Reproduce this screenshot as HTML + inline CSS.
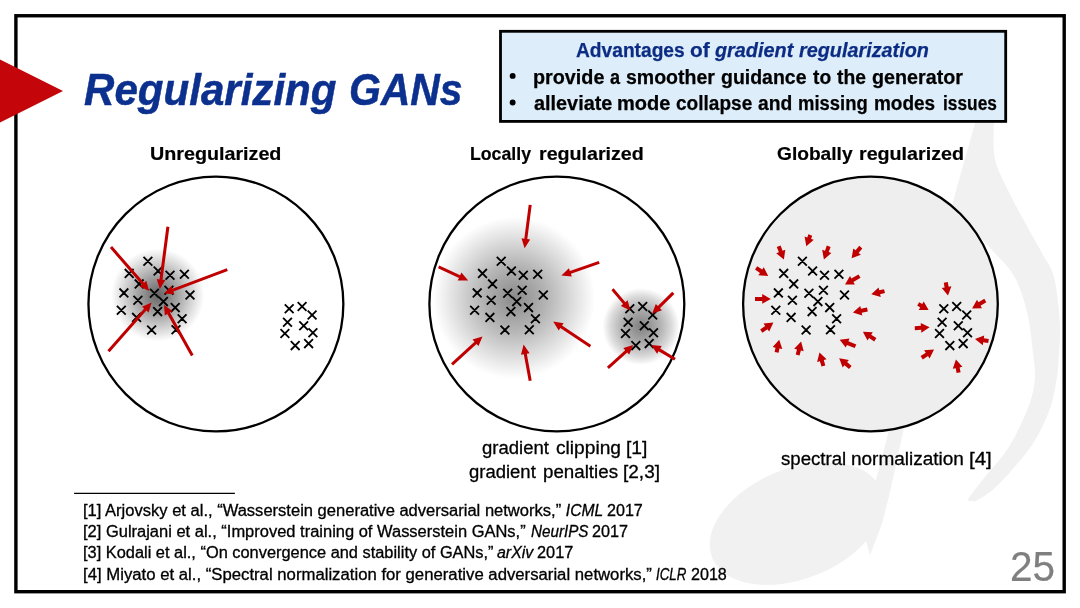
<!DOCTYPE html>
<html><head><meta charset="utf-8"><title>Regularizing GANs</title>
<style>
html,body{margin:0;padding:0;background:#fff;}
body{width:1080px;height:608px;position:relative;overflow:hidden;font-family:"Liberation Sans", sans-serif;will-change:transform;}
.t{position:absolute;white-space:nowrap;transform-origin:0 50%;font-family:"Liberation Sans", sans-serif;}
</style></head><body>
<svg id="dg" width="1080" height="608" viewBox="0 0 1080 608" style="position:absolute;left:0;top:0">
<defs><radialGradient id="g1"><stop offset="0" stop-color="#646464"/><stop offset="0.26" stop-color="#8a8a8a"/><stop offset="0.54" stop-color="#b6b6b6"/><stop offset="0.8" stop-color="#e0e0e0"/><stop offset="1" stop-color="#ffffff"/></radialGradient><radialGradient id="g2"><stop offset="0" stop-color="#8a8a8a"/><stop offset="0.4" stop-color="#b4b4b4"/><stop offset="0.7" stop-color="#dadada"/><stop offset="0.9" stop-color="#f3f3f3"/><stop offset="1" stop-color="#ffffff"/></radialGradient><radialGradient id="g3"><stop offset="0" stop-color="#808080"/><stop offset="0.5" stop-color="#b2b2b2"/><stop offset="0.8" stop-color="#dcdcdc"/><stop offset="1" stop-color="#ffffff"/></radialGradient></defs>
<g><path d="M981.6 100.0L975.3 122.3L955.7 191.8L933.0 286.6L888.7 431.6L874.2 486.8L860.0 520.0L870.0 555.0L882.0 523.7L890.0 492.0L903.2 431.6L948.0 286.6L971.5 191.8L993.8 122.3L1000.1 100.0Z" fill="#f1f1f1"/><path d="M993.8 100.0C993.8 103.7 993.6 112.4 993.8 122.3C994.0 132.2 992.5 147.8 995.0 159.3C997.5 170.8 1003.1 179.9 1008.6 191.4C1014.1 202.9 1022.5 217.8 1028.3 228.4C1034.0 239.0 1038.8 246.7 1043.1 255.0C1047.4 263.3 1051.4 266.5 1054.2 278.0C1057.0 289.5 1059.2 310.2 1059.9 324.0C1060.6 337.8 1059.1 351.7 1058.5 361.0C1057.9 370.3 1058.0 371.9 1056.5 380.0C1055.0 388.1 1053.7 398.7 1049.6 409.6C1045.5 420.5 1040.2 432.9 1031.8 445.2C1023.4 457.5 1008.1 474.6 999.2 483.7C990.3 492.8 983.0 496.6 978.5 499.5C974.0 502.4 973.1 500.8 972.0 501.0L972.0 501.0C971.4 500.6 966.5 502.4 968.6 498.5C970.7 494.6 977.8 486.1 984.4 477.7C991.0 469.3 1000.9 459.5 1008.1 448.1C1015.3 436.8 1023.0 421.0 1027.4 409.6C1031.9 398.2 1034.0 390.1 1034.8 380.0C1035.6 369.9 1033.8 360.1 1032.5 348.7C1031.2 337.3 1030.1 323.8 1027.0 311.7C1023.9 299.6 1020.3 286.8 1014.0 276.0C1007.7 265.2 997.5 256.1 989.2 247.1C981.0 238.1 969.4 227.3 964.5 222.0C959.6 216.7 960.8 216.2 960.0 215.0L975 150Z" fill="#f1f1f1"/><ellipse cx="796.6" cy="523.6" rx="91" ry="55" transform="rotate(-22 796.6 523.6)" fill="#f1f1f1"/></g>
<rect x="15.9" y="15.75" width="1048.3" height="575.95" fill="none" stroke="#000" stroke-width="3.4"/>
<circle cx="215.9" cy="304.0" r="127.45" fill="#fff" stroke="#000" stroke-width="2.3"/>
<circle cx="556.85" cy="304.0" r="127.45" fill="#fff" stroke="#000" stroke-width="2.3"/>
<circle cx="870.45" cy="304.0" r="127.35" fill="#ededed" fill-opacity="0.95" stroke="#000" stroke-width="2.3"/>
<circle cx="157.8" cy="295.0" r="46.5" fill="url(#g1)"/>
<circle cx="514.2" cy="297.8" r="81" fill="url(#g2)"/>
<circle cx="641.0" cy="326.5" r="38.5" fill="url(#g3)"/>
<path d="M143.5 256.9L152.3 265.7M152.3 256.9L143.5 265.7M153.7 266.6L162.5 275.4M162.5 266.6L153.7 275.4M165.6 270.9L174.4 279.7M174.4 270.9L165.6 279.7M180.0 269.8L188.8 278.6M188.8 269.8L180.0 278.6M124.8 269.0L133.6 277.8M133.6 269.0L124.8 277.8M134.8 279.5L143.6 288.3M143.6 279.5L134.8 288.3M119.5 288.5L128.3 297.3M128.3 288.5L119.5 297.3M133.5 295.9L142.3 304.7M142.3 295.9L133.5 304.7M150.0 288.8L158.8 297.6M158.8 288.8L150.0 297.6M164.5 285.9L173.3 294.7M173.3 285.9L164.5 294.7M159.0 297.2L167.8 306.0M167.8 297.2L159.0 306.0M185.6 290.6L194.4 299.4M194.4 290.6L185.6 299.4M116.9 305.9L125.7 314.7M125.7 305.9L116.9 314.7M132.2 313.0L141.0 321.8M141.0 313.0L132.2 321.8M153.2 307.2L162.0 316.0M162.0 307.2L153.2 316.0M170.8 303.2L179.6 312.0M179.6 303.2L170.8 312.0M177.7 314.3L186.5 323.1M186.5 314.3L177.7 323.1M147.2 325.6L156.0 334.4M156.0 325.6L147.2 334.4M171.6 325.3L180.4 334.1M180.4 325.3L171.6 334.1" stroke="#000" stroke-width="1.85" fill="none" stroke-linecap="butt"/>
<path d="M284.8 304.4L293.6 313.2M293.6 304.4L284.8 313.2M297.7 302.1L306.5 310.9M306.5 302.1L297.7 310.9M307.7 310.6L316.5 319.4M316.5 310.6L307.7 319.4M283.1 317.9L291.9 326.7M291.9 317.9L283.1 326.7M299.3 321.4L308.1 330.2M308.1 321.4L299.3 330.2M308.5 328.3L317.3 337.1M317.3 328.3L308.5 337.1M280.5 329.1L289.3 337.9M289.3 329.1L280.5 337.9M290.8 341.2L299.6 350.0M299.6 341.2L290.8 350.0M304.2 339.2L313.0 348.0M313.0 339.2L304.2 348.0" stroke="#000" stroke-width="1.85" fill="none" stroke-linecap="butt"/>
<path d="M496.8 256.9L505.6 265.7M505.6 256.9L496.8 265.7M507.0 266.6L515.8 275.4M515.8 266.6L507.0 275.4M518.9 270.9L527.7 279.7M527.7 270.9L518.9 279.7M533.3 269.8L542.1 278.6M542.1 269.8L533.3 278.6M478.1 269.0L486.9 277.8M486.9 269.0L478.1 277.8M488.1 279.5L496.9 288.3M496.9 279.5L488.1 288.3M472.8 288.5L481.6 297.3M481.6 288.5L472.8 297.3M486.8 295.9L495.6 304.7M495.6 295.9L486.8 304.7M503.3 288.8L512.1 297.6M512.1 288.8L503.3 297.6M517.8 285.9L526.6 294.7M526.6 285.9L517.8 294.7M512.3 297.2L521.1 306.0M521.1 297.2L512.3 306.0M538.9 290.6L547.7 299.4M547.7 290.6L538.9 299.4M470.2 305.9L479.0 314.7M479.0 305.9L470.2 314.7M485.5 313.0L494.3 321.8M494.3 313.0L485.5 321.8M506.5 307.2L515.3 316.0M515.3 307.2L506.5 316.0M524.1 303.2L532.9 312.0M532.9 303.2L524.1 312.0M531.0 314.3L539.8 323.1M539.8 314.3L531.0 323.1M500.5 325.6L509.3 334.4M509.3 325.6L500.5 334.4M524.9 325.3L533.7 334.1M533.7 325.3L524.9 334.1" stroke="#000" stroke-width="1.85" fill="none" stroke-linecap="butt"/>
<path d="M625.4 304.4L634.2 313.2M634.2 304.4L625.4 313.2M638.3 302.1L647.1 310.9M647.1 302.1L638.3 310.9M648.3 310.6L657.1 319.4M657.1 310.6L648.3 319.4M623.7 317.9L632.5 326.7M632.5 317.9L623.7 326.7M639.9 321.4L648.7 330.2M648.7 321.4L639.9 330.2M649.1 328.3L657.9 337.1M657.9 328.3L649.1 337.1M621.1 329.1L629.9 337.9M629.9 329.1L621.1 337.9M631.4 341.2L640.2 350.0M640.2 341.2L631.4 350.0M644.8 339.2L653.6 348.0M653.6 339.2L644.8 348.0" stroke="#000" stroke-width="1.85" fill="none" stroke-linecap="butt"/>
<path d="M798.0 256.9L806.8 265.7M806.8 256.9L798.0 265.7M808.2 266.6L817.0 275.4M817.0 266.6L808.2 275.4M820.1 270.9L828.9 279.7M828.9 270.9L820.1 279.7M834.5 269.8L843.3 278.6M843.3 269.8L834.5 278.6M779.3 269.0L788.1 277.8M788.1 269.0L779.3 277.8M789.3 279.5L798.1 288.3M798.1 279.5L789.3 288.3M774.0 288.5L782.8 297.3M782.8 288.5L774.0 297.3M788.0 295.9L796.8 304.7M796.8 295.9L788.0 304.7M804.5 288.8L813.3 297.6M813.3 288.8L804.5 297.6M819.0 285.9L827.8 294.7M827.8 285.9L819.0 294.7M813.5 297.2L822.3 306.0M822.3 297.2L813.5 306.0M840.1 290.6L848.9 299.4M848.9 290.6L840.1 299.4M771.4 305.9L780.2 314.7M780.2 305.9L771.4 314.7M786.7 313.0L795.5 321.8M795.5 313.0L786.7 321.8M807.7 307.2L816.5 316.0M816.5 307.2L807.7 316.0M825.3 303.2L834.1 312.0M834.1 303.2L825.3 312.0M832.2 314.3L841.0 323.1M841.0 314.3L832.2 323.1M801.7 325.6L810.5 334.4M810.5 325.6L801.7 334.4M826.1 325.3L834.9 334.1M834.9 325.3L826.1 334.1" stroke="#000" stroke-width="1.85" fill="none" stroke-linecap="butt"/>
<path d="M939.4 304.4L948.2 313.2M948.2 304.4L939.4 313.2M952.3 302.1L961.1 310.9M961.1 302.1L952.3 310.9M962.3 310.6L971.1 319.4M971.1 310.6L962.3 319.4M937.7 317.9L946.5 326.7M946.5 317.9L937.7 326.7M953.9 321.4L962.7 330.2M962.7 321.4L953.9 330.2M963.1 328.3L971.9 337.1M971.9 328.3L963.1 337.1M935.1 329.1L943.9 337.9M943.9 329.1L935.1 337.9M945.4 341.2L954.2 350.0M954.2 341.2L945.4 350.0M958.8 339.2L967.6 348.0M967.6 339.2L958.8 348.0" stroke="#000" stroke-width="1.85" fill="none" stroke-linecap="butt"/>
<path d="M109.9 248.1L141.8 284.7L139.6 286.6L149.2 290.9L146.3 280.8L144.1 282.8L112.1 246.1ZM166.4 226.6L159.5 279.4L156.7 279.0L159.8 289.0L165.4 280.1L162.5 279.8L169.4 227.0ZM226.8 268.3L172.4 288.7L171.4 285.9L164.0 293.4L174.4 294.2L173.4 291.5L227.8 271.1ZM109.6 352.3L146.4 310.6L148.6 312.5L151.6 302.5L142.0 306.7L144.2 308.6L107.4 350.3ZM193.6 354.8L170.0 312.6L172.5 311.1L164.0 305.0L164.8 315.4L167.3 314.0L191.0 356.2Z" fill="#c00000"/>
<path d="M528.7 204.7L524.3 238.7L521.5 238.3L524.6 248.3L530.2 239.4L527.3 239.1L531.7 205.1ZM438.0 268.2L459.0 277.9L457.7 280.6L468.2 280.6L461.4 272.6L460.2 275.2L439.2 265.4ZM598.7 261.0L569.9 271.0L568.9 268.2L561.4 275.5L571.8 276.5L570.9 273.8L599.7 263.8ZM591.2 344.9L562.0 325.6L563.6 323.2L553.2 321.6L558.7 330.5L560.3 328.1L589.6 347.5ZM453.0 365.4L476.5 343.9L478.5 346.1L482.5 336.4L472.5 339.6L474.5 341.7L451.0 363.2ZM531.7 380.4L526.8 353.7L529.6 353.2L523.6 344.6L521.0 354.7L523.8 354.2L528.7 381.0Z" fill="#c00000"/>
<path d="M611.4 290.2L623.1 304.1L620.9 306.0L630.4 310.4L627.6 300.3L625.4 302.2L613.6 288.2ZM672.2 291.8L657.8 306.0L655.8 304.0L652.1 313.8L662.0 310.2L659.9 308.2L674.4 294.0ZM608.9 369.0L627.2 352.5L629.2 354.6L633.3 345.0L623.3 348.1L625.2 350.2L606.9 366.8ZM675.8 357.9L660.2 348.6L661.7 346.1L651.2 345.0L657.1 353.7L658.6 351.2L674.2 360.5Z" fill="#c00000"/>
<path d="M808.4 234.3L807.3 237.5L804.6 236.6L806.3 246.3L813.8 239.8L811.1 238.9L812.2 235.7ZM776.8 247.0L778.9 252.2L776.2 253.3L783.9 259.5L785.3 249.7L782.6 250.8L780.6 245.6ZM826.8 245.6L825.0 250.7L822.2 249.7L823.9 259.5L831.4 253.1L828.7 252.1L830.6 247.0ZM859.3 245.8L855.5 250.3L853.3 248.5L851.6 258.2L860.9 254.7L858.6 252.9L862.3 248.4ZM755.0 269.6L760.0 272.9L758.3 275.3L768.2 276.1L763.8 267.2L762.2 269.6L757.2 266.2ZM858.5 274.4L851.4 278.5L850.0 275.9L845.0 284.5L854.9 284.4L853.4 281.9L860.5 277.8ZM884.0 289.2L879.2 290.3L878.6 287.5L871.3 294.2L880.8 297.0L880.1 294.2L885.0 293.0ZM755.0 300.9L762.2 300.9L762.2 303.8L770.8 298.9L762.2 294.0L762.2 296.9L755.0 296.9ZM867.0 307.5L860.9 308.8L860.3 306.0L852.9 312.6L862.3 315.6L861.7 312.8L867.8 311.5ZM762.4 332.7L767.5 329.2L769.2 331.6L773.4 322.6L763.5 323.5L765.2 325.9L760.2 329.5ZM876.4 338.0L871.2 334.7L872.8 332.3L862.9 331.8L867.5 340.6L869.1 338.1L874.2 341.4ZM778.6 352.8L779.4 348.5L782.3 349.1L779.2 339.7L772.7 347.1L775.5 347.7L774.6 352.0ZM856.3 344.5L848.4 341.2L849.5 338.5L839.7 339.7L845.7 347.5L846.9 344.9L854.7 348.1ZM799.5 355.5L800.9 350.4L803.7 351.2L801.1 341.6L794.2 348.7L797.0 349.4L795.7 354.5ZM825.3 365.6L823.8 360.1L826.6 359.3L819.5 352.4L817.1 362.0L819.9 361.2L821.5 366.6ZM851.6 365.9L847.1 362.1L848.9 359.9L839.2 358.2L842.7 367.5L844.5 365.2L849.0 368.9Z" fill="#c00000"/>
<path d="M943.8 282.7L944.6 287.4L941.8 287.9L948.0 295.6L951.4 286.3L948.6 286.8L947.8 282.1ZM917.2 305.6L920.2 307.4L918.7 309.9L928.6 310.0L923.7 301.4L922.2 303.9L919.2 302.2ZM984.3 298.8L978.5 302.3L977.0 299.8L972.1 308.4L982.0 308.2L980.5 305.7L986.3 302.2ZM914.9 330.2L921.2 329.8L921.3 332.7L929.6 327.2L920.7 322.9L920.9 325.8L914.7 326.2ZM988.8 339.0L983.8 338.3L984.2 335.4L975.0 339.1L982.8 345.2L983.2 342.3L988.2 343.0ZM922.8 359.5L928.0 356.0L929.6 358.4L934.0 349.5L924.1 350.2L925.8 352.7L920.6 356.1ZM960.6 372.2L959.6 367.4L962.4 366.8L955.9 359.4L952.8 368.8L955.7 368.2L956.6 373.0Z" fill="#c00000"/>
<rect x="500.5" y="31.3" width="505.2" height="90.1" fill="#ddeefa" stroke="#000" stroke-width="2.8"/>
<circle cx="512.65" cy="75.9" r="2.95" fill="#000"/><circle cx="512.65" cy="102.55" r="2.95" fill="#000"/>
<path d="M74.1 493.3H234.9" stroke="#000" stroke-width="1.15" fill="none"/>
<path d="M0 59.5L63 91.05L0 122.5Z" fill="#c40509"/>
</svg>
<div class="t" id="ti0" style="left:84.30px;top:68.00px;font-size:44px;line-height:44px;transform:scaleX(0.9563);font-weight:bold;font-style:italic;color:#0c308e;-webkit-text-stroke:0.5px #0c308e;">Regularizing</div>
<div class="t" id="ti1" style="left:348.70px;top:68.00px;font-size:44px;line-height:44px;transform:scaleX(0.9294);font-weight:bold;font-style:italic;color:#0c308e;-webkit-text-stroke:0.5px #0c308e;">GANs</div>
<div class="t" id="bh0" style="left:576.20px;top:40.00px;font-size:20px;line-height:20px;transform:scaleX(0.9586);font-weight:bold;color:#0c2c84;-webkit-text-stroke:0.25px #0c2c84;">Advantages</div>
<div class="t" id="bh1" style="left:689.65px;top:40.00px;font-size:20px;line-height:20px;transform:scaleX(1.0432);font-weight:bold;color:#0c2c84;-webkit-text-stroke:0.25px #0c2c84;">of</div>
<div class="t" id="bh2" style="left:715.05px;top:40.00px;font-size:20px;line-height:20px;transform:scaleX(0.9918);font-weight:bold;color:#0c2c84;-webkit-text-stroke:0.25px #0c2c84;font-style:italic;">gradient</div>
<div class="t" id="bh3" style="left:799.00px;top:40.00px;font-size:20px;line-height:20px;transform:scaleX(0.9904);font-weight:bold;color:#0c2c84;-webkit-text-stroke:0.25px #0c2c84;font-style:italic;">regularization</div>
<div class="t" id="ba0" style="left:533.30px;top:67.00px;font-size:20px;line-height:20px;transform:scaleX(0.9887);font-weight:bold;color:#000;-webkit-text-stroke:0.25px #000;">provide</div>
<div class="t" id="ba1" style="left:609.90px;top:67.00px;font-size:20px;line-height:20px;transform:scaleX(0.9023);font-weight:bold;color:#000;-webkit-text-stroke:0.25px #000;">a</div>
<div class="t" id="ba2" style="left:625.50px;top:67.00px;font-size:20px;line-height:20px;transform:scaleX(0.9757);font-weight:bold;color:#000;-webkit-text-stroke:0.25px #000;">smoother</div>
<div class="t" id="ba3" style="left:721.40px;top:67.00px;font-size:20px;line-height:20px;transform:scaleX(0.9734);font-weight:bold;color:#000;-webkit-text-stroke:0.25px #000;">guidance</div>
<div class="t" id="ba4" style="left:812.60px;top:67.00px;font-size:20px;line-height:20px;transform:scaleX(0.9611);font-weight:bold;color:#000;-webkit-text-stroke:0.25px #000;">to</div>
<div class="t" id="ba5" style="left:837.40px;top:67.00px;font-size:20px;line-height:20px;transform:scaleX(0.9641);font-weight:bold;color:#000;-webkit-text-stroke:0.25px #000;">the</div>
<div class="t" id="ba6" style="left:871.80px;top:67.00px;font-size:20px;line-height:20px;transform:scaleX(0.9858);font-weight:bold;color:#000;-webkit-text-stroke:0.25px #000;">generator</div>
<div class="t" id="bb0" style="left:534.10px;top:93.00px;font-size:20px;line-height:20px;transform:scaleX(0.9923);font-weight:bold;color:#000;-webkit-text-stroke:0.25px #000;">alleviate</div>
<div class="t" id="bb1" style="left:616.95px;top:93.00px;font-size:20px;line-height:20px;transform:scaleX(1.0000);font-weight:bold;color:#000;-webkit-text-stroke:0.25px #000;">mode</div>
<div class="t" id="bb2" style="left:676.30px;top:93.00px;font-size:20px;line-height:20px;transform:scaleX(0.9524);font-weight:bold;color:#000;-webkit-text-stroke:0.25px #000;">collapse</div>
<div class="t" id="bb3" style="left:757.50px;top:93.00px;font-size:20px;line-height:20px;transform:scaleX(0.9630);font-weight:bold;color:#000;-webkit-text-stroke:0.25px #000;">and</div>
<div class="t" id="bb4" style="left:798.25px;top:93.00px;font-size:20px;line-height:20px;transform:scaleX(0.9219);font-weight:bold;color:#000;-webkit-text-stroke:0.25px #000;">missing</div>
<div class="t" id="bb5" style="left:874.45px;top:93.00px;font-size:20px;line-height:20px;transform:scaleX(0.9488);font-weight:bold;color:#000;-webkit-text-stroke:0.25px #000;">modes</div>
<div class="t" id="bb6" style="left:942.80px;top:93.00px;font-size:20px;line-height:20px;transform:scaleX(0.8664);font-weight:bold;color:#000;-webkit-text-stroke:0.25px #000;">issues</div>
<div class="t" id="ha0" style="left:149.95px;top:145.00px;font-size:18.5px;line-height:18.5px;transform:scaleX(1.0653);font-weight:bold;color:#000;-webkit-text-stroke:0.2px #000;">Unregularized</div>
<div class="t" id="hb0" style="left:470.25px;top:145.00px;font-size:18.5px;line-height:18.5px;transform:scaleX(0.9568);font-weight:bold;color:#000;-webkit-text-stroke:0.2px #000;">Locally</div>
<div class="t" id="hb1" style="left:539.00px;top:145.00px;font-size:18.5px;line-height:18.5px;transform:scaleX(1.0611);font-weight:bold;color:#000;-webkit-text-stroke:0.2px #000;">regularized</div>
<div class="t" id="hc0" style="left:777.30px;top:145.00px;font-size:18.5px;line-height:18.5px;transform:scaleX(1.0353);font-weight:bold;color:#000;-webkit-text-stroke:0.2px #000;">Globally</div>
<div class="t" id="hc1" style="left:858.60px;top:145.00px;font-size:18.5px;line-height:18.5px;transform:scaleX(1.0629);font-weight:bold;color:#000;-webkit-text-stroke:0.2px #000;">regularized</div>
<div class="t" id="ca0" style="left:482.10px;top:439.00px;font-size:18px;line-height:18px;transform:scaleX(1.0295);color:#000;-webkit-text-stroke:0.3px #000;">gradient</div>
<div class="t" id="ca1" style="left:556.10px;top:439.00px;font-size:18px;line-height:18px;transform:scaleX(1.0650);color:#000;-webkit-text-stroke:0.3px #000;">clipping</div>
<div class="t" id="ca2" style="left:626.30px;top:439.00px;font-size:18px;line-height:18px;transform:scaleX(1.0704);color:#000;-webkit-text-stroke:0.3px #000;">[1]</div>
<div class="t" id="cb0" style="left:469.10px;top:463.00px;font-size:18px;line-height:18px;transform:scaleX(1.0264);color:#000;-webkit-text-stroke:0.3px #000;">gradient</div>
<div class="t" id="cb1" style="left:542.50px;top:463.00px;font-size:18px;line-height:18px;transform:scaleX(1.0411);color:#000;-webkit-text-stroke:0.3px #000;">penalties</div>
<div class="t" id="cb2" style="left:623.45px;top:463.00px;font-size:18px;line-height:18px;transform:scaleX(1.0565);color:#000;-webkit-text-stroke:0.3px #000;">[2,3]</div>
<div class="t" id="cc0" style="left:780.90px;top:450.00px;font-size:18px;line-height:18px;transform:scaleX(1.0348);color:#000;-webkit-text-stroke:0.3px #000;">spectral</div>
<div class="t" id="cc1" style="left:851.00px;top:450.00px;font-size:18px;line-height:18px;transform:scaleX(1.0543);color:#000;-webkit-text-stroke:0.3px #000;">normalization</div>
<div class="t" id="cc2" style="left:969.15px;top:450.00px;font-size:18px;line-height:18px;transform:scaleX(1.1380);color:#000;-webkit-text-stroke:0.3px #000;">[4]</div>
<div class="t" id="ra0" style="left:82.65px;top:503.00px;font-size:15.6px;line-height:15.6px;transform:scaleX(1.0603);color:#000;-webkit-text-stroke:0.3px #000;">[1] Arjovsky et al., &ldquo;Wasserstein generative adversarial networks,&rdquo;</div>
<div class="t" id="ra1" style="left:565.80px;top:503.00px;font-size:15.6px;line-height:15.6px;transform:scaleX(1.0000);color:#000;-webkit-text-stroke:0.3px #000;font-style:italic;">ICML</div>
<div class="t" id="ra2" style="left:607.20px;top:503.00px;font-size:15.6px;line-height:15.6px;transform:scaleX(1.0328);color:#000;-webkit-text-stroke:0.3px #000;">2017</div>
<div class="t" id="rb0" style="left:82.65px;top:524.00px;font-size:15.6px;line-height:15.6px;transform:scaleX(1.0568);color:#000;-webkit-text-stroke:0.3px #000;">[2] Gulrajani et al., &ldquo;Improved training of Wasserstein GANs,&rdquo;</div>
<div class="t" id="rb1" style="left:530.70px;top:524.00px;font-size:15.6px;line-height:15.6px;transform:scaleX(0.9761);color:#000;-webkit-text-stroke:0.3px #000;font-style:italic;">NeurIPS</div>
<div class="t" id="rb2" style="left:591.75px;top:524.00px;font-size:15.6px;line-height:15.6px;transform:scaleX(1.0376);color:#000;-webkit-text-stroke:0.3px #000;">2017</div>
<div class="t" id="rc0" style="left:82.65px;top:545.00px;font-size:15.6px;line-height:15.6px;transform:scaleX(1.0503);color:#000;-webkit-text-stroke:0.3px #000;">[3] Kodali et al., &ldquo;On convergence and stability of GANs,&rdquo;</div>
<div class="t" id="rc1" style="left:496.90px;top:545.00px;font-size:15.6px;line-height:15.6px;transform:scaleX(1.0207);color:#000;-webkit-text-stroke:0.3px #000;font-style:italic;">arXiv</div>
<div class="t" id="rc2" style="left:537.10px;top:545.00px;font-size:15.6px;line-height:15.6px;transform:scaleX(1.0466);color:#000;-webkit-text-stroke:0.3px #000;">2017</div>
<div class="t" id="rd0" style="left:82.65px;top:567.00px;font-size:15.6px;line-height:15.6px;transform:scaleX(1.0726);color:#000;-webkit-text-stroke:0.3px #000;">[4] Miyato et al., &ldquo;Spectral normalization for generative adversarial networks,&rdquo;</div>
<div class="t" id="rd1" style="left:656.10px;top:567.00px;font-size:15.6px;line-height:15.6px;transform:scaleX(0.8547);color:#000;-webkit-text-stroke:0.3px #000;font-style:italic;">ICLR</div>
<div class="t" id="rd2" style="left:690.80px;top:567.00px;font-size:15.6px;line-height:15.6px;transform:scaleX(1.0328);color:#000;-webkit-text-stroke:0.3px #000;">2018</div>
<div class="t" id="pg0" style="left:1009.80px;top:546.00px;font-size:42.4px;line-height:42.4px;transform:scaleX(0.9572);color:#7f7f7f;-webkit-text-stroke:0.2px #7f7f7f;">25</div>
</body></html>
